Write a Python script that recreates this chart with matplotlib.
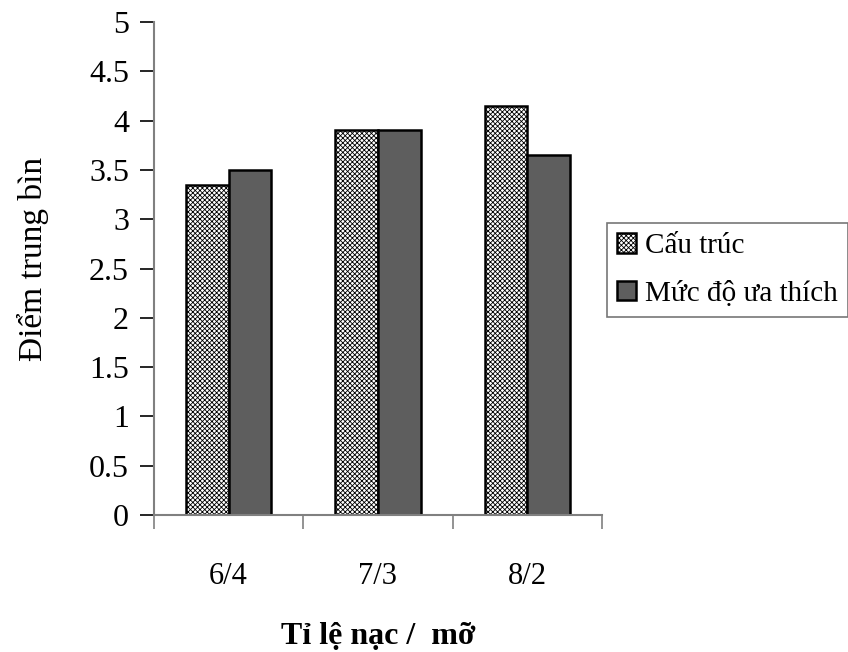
import numpy as np
import matplotlib.pyplot as plt

# Data
categories = ["6/4", "7/3", "8/2"]
cau_truc = [3.35, 3.9, 4.15]
ua_thich = [3.5, 3.9, 3.65]
series_names = ["Cấu trúc", "Mức độ ưa thích"]
yticks = [0, 0.5, 1, 1.5, 2, 2.5, 3, 3.5, 4, 4.5, 5]

plt.rcParams['font.family'] = ['Liberation Serif', 'DejaVu Serif']
plt.rcParams['hatch.linewidth'] = 0.6

fig = plt.figure(figsize=(8.48, 6.52), dpi=100)
ax = fig.add_axes([154 / 848, 1 - 515 / 652, 448 / 848, 493 / 652])

x = np.arange(len(categories))
w = 0.285
ax.bar(x - w / 2, cau_truc, w, facecolor='white', edgecolor='black', hatch='xxxxxxx',
       linewidth=1.8, label=series_names[0])
ax.bar(x + w / 2, ua_thich, w, facecolor='#5e5e5e', edgecolor='black',
       linewidth=1.8, label=series_names[1])

ax.set_xlim(-0.5, 2.5)
ax.set_ylim(0, 5)
ax.set_yticks(yticks)
ax.set_yticklabels([f"{t:g}" for t in yticks], fontsize=23)
ax.set_xticks([-0.5, 0.5, 1.5, 2.5])
ax.set_xticklabels([])
ax.set_xticks(x, minor=True)
ax.set_xticklabels(categories, minor=True, fontsize=22)
ax.tick_params(axis='x', which='major', direction='out', length=10, width=1.2, color='#808080')
ax.tick_params(axis='x', which='minor', length=0, pad=34)
ax.tick_params(axis='y', direction='out', length=10, width=1.2, pad=8)

for s in ['top', 'right']:
    ax.spines[s].set_visible(False)
ax.spines['left'].set_color('#808080')
ax.spines['left'].set_linewidth(1.5)
ax.spines['bottom'].set_color('#808080')
ax.spines['bottom'].set_linewidth(1.5)
ax.spines['bottom'].set_bounds(-0.5, 2.5)

ax.set_ylabel("Điểm trung bìn", fontsize=24)
ax.yaxis.set_label_coords(-0.235, 0.52)
ax.set_xlabel("Tỉ lệ nạc /  mỡ", fontsize=23, fontweight='bold', labelpad=22)

leg = ax.legend(loc='center left', bbox_to_anchor=(607 / 848, 1 - 270 / 652),
                bbox_transform=fig.transFigure, fontsize=21, frameon=True,
                fancybox=False, handlelength=0.65, handleheight=0.65,
                handletextpad=0.3, labelspacing=0.75, borderpad=0.35,
                borderaxespad=0)
leg.get_frame().set_edgecolor('#555555')
leg.get_frame().set_linewidth(1.2)

fig.savefig("out.png", dpi=100)
